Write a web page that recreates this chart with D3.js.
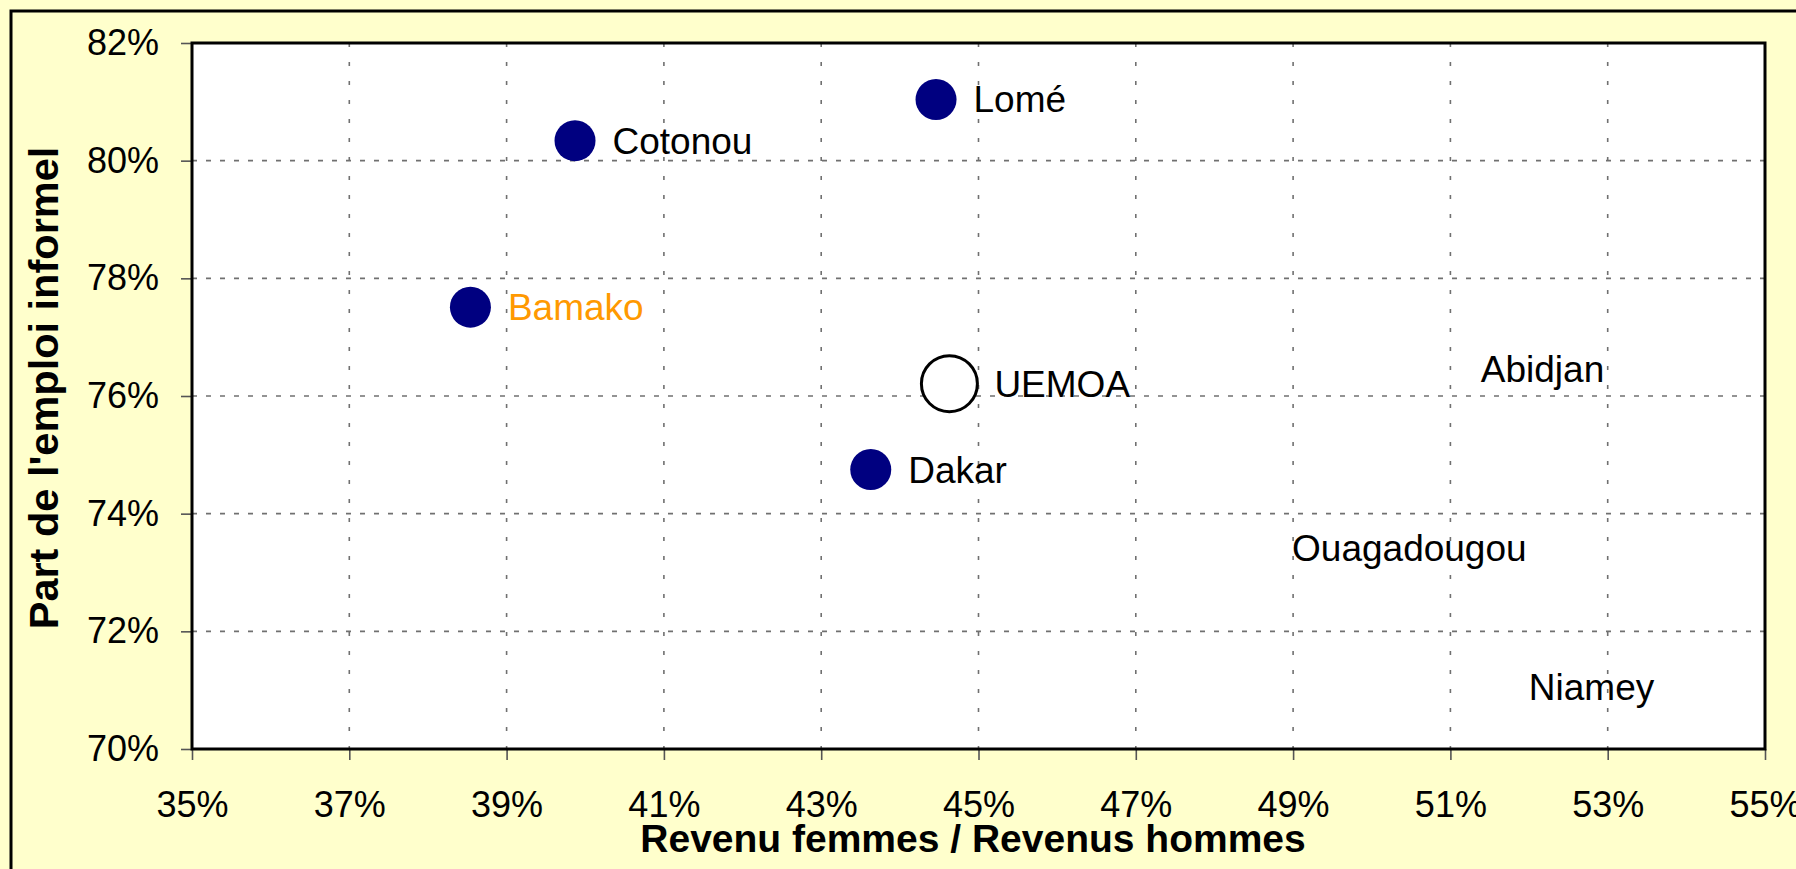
<!DOCTYPE html>
<html>
<head>
<meta charset="utf-8">
<script src="https://cdn.jsdelivr.net/npm/d3@7"></script>
<style>
  body { margin: 0; background: #ffffcc; }
  svg { display: block; }
  text { font-family: "Liberation Sans", Arial, sans-serif; }
</style>
</head>
<body>
<svg id="chart" width="1796" height="869"></svg>
<script>
// data
var cities = ["Cotonou", "Lomé", "Bamako", "UEMOA", "Dakar", "Abidjan", "Ouagadougou", "Niamey"];
var revenueRatio = [0.3987, 0.4446, 0.3854, 0.4463, 0.4363, 0.5091, 0.4851, 0.5152];
var informalShare = [0.8034, 0.8104, 0.7751, 0.7621, 0.7475, 0.7646, 0.7341, 0.7105];
var xTicks = [0.35, 0.37, 0.39, 0.41, 0.43, 0.45, 0.47, 0.49, 0.51, 0.53, 0.55];
var yTicks = [0.70, 0.72, 0.74, 0.76, 0.78, 0.80, 0.82];

var aggregate = "UEMOA";
var noMarker = ["Abidjan", "Ouagadougou", "Niamey"];
var highlighted = "Bamako";

var data = cities.map(function(c, i) {
    return {name: c, x: revenueRatio[i], y: informalShare[i]};
});

var svg = d3.select("#chart");
var margin = {left: 192, top: 43, right: 31, bottom: 120};
var w = 1796 - margin.left - margin.right;
var h = 869 - margin.top - margin.bottom;

// outer frame
svg.append("rect")
    .attr("x", 11).attr("y", 11)
    .attr("width", 1800).attr("height", 900)
    .attr("fill", "#ffffcc")
    .attr("stroke", "#000").attr("stroke-width", 3);

var g = svg.append("g").attr("transform", "translate(" + margin.left + "," + margin.top + ")");

var xScale = d3.scaleLinear().domain([0.35, 0.55]).range([0, w]);
var yScale = d3.scaleLinear().domain([0.70, 0.82]).range([h, 0]);
var pct = d3.format(".0%");

g.append("rect").attr("width", w).attr("height", h).attr("fill", "#fff");

// grid
g.selectAll(".hgrid").data(yTicks.slice(1, -1)).enter().append("line")
    .attr("x1", 0).attr("x2", w)
    .attr("y1", d => yScale(d)).attr("y2", d => yScale(d))
    .attr("stroke", "#707070").attr("stroke-width", 1.6)
    .attr("stroke-dasharray", "5,9");
g.selectAll(".vgrid").data(xTicks.slice(1, -1)).enter().append("line")
    .attr("y1", 0).attr("y2", h)
    .attr("x1", d => xScale(d)).attr("x2", d => xScale(d))
    .attr("stroke", "#707070").attr("stroke-width", 1.6)
    .attr("stroke-dasharray", "4,15");

// axes
var xAxis = d3.axisBottom(xScale).tickValues(xTicks).tickFormat(pct).tickSize(11).tickPadding(25);
var yAxis = d3.axisLeft(yScale).tickValues(yTicks).tickFormat(pct).tickSize(11).tickPadding(22);

var gx = g.append("g").attr("transform", "translate(0," + h + ")").call(xAxis);
var gy = g.append("g").call(yAxis);
[gx, gy].forEach(function(a) {
    a.select(".domain").remove();
    a.selectAll(".tick line").attr("stroke", "#555").attr("stroke-width", 1.6);
    a.selectAll(".tick text").attr("fill", "#000")
        .style("font-size", "36px")
        .style("font-family", "'Liberation Sans', Arial, sans-serif");
});
gx.selectAll(".tick text").attr("dy", "0.9em");

// plot border
g.append("rect").attr("width", w).attr("height", h)
    .attr("fill", "none").attr("stroke", "#000").attr("stroke-width", 3);

// points
function radius(d) { return d.name == aggregate ? 28 : 20.5; }

g.selectAll(".dot").data(data.filter(d => noMarker.indexOf(d.name) < 0))
    .enter().append("circle")
    .attr("cx", d => xScale(d.x))
    .attr("cy", d => yScale(d.y))
    .attr("r", radius)
    .attr("fill", d => d.name == aggregate ? "#fff" : "#000080")
    .attr("stroke", d => d.name == aggregate ? "#000" : "none")
    .attr("stroke-width", 3);

g.selectAll(".lbl").data(data).enter().append("text")
    .attr("x", d => xScale(d.x) + radius(d) + 17)
    .attr("y", d => yScale(d.y) + 13)
    .attr("fill", d => d.name == highlighted ? "#ff9900" : "#000")
    .style("font-size", "37px")
    .text(d => d.name);

// axis titles
svg.append("text")
    .attr("x", 973).attr("y", 852)
    .attr("text-anchor", "middle")
    .attr("font-weight", "bold")
    .style("font-size", "39px")
    .text("Revenu femmes / Revenus hommes");

svg.append("text")
    .attr("transform", "translate(58,388) rotate(-90)")
    .attr("text-anchor", "middle")
    .attr("font-weight", "bold")
    .style("font-size", "41.5px")
    .text("Part de l'emploi informel");
</script>
</body>
</html>
